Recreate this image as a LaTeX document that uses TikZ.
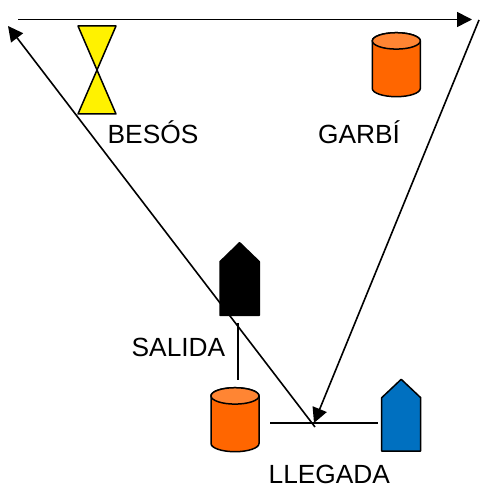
\documentclass[tikz,border=0pt]{standalone}
\usepackage{fontspec}
\setmainfont{Liberation Sans}
\usetikzlibrary{arrows.meta}
\definecolor{orangeBody}{HTML}{FF6600}
\definecolor{orangeTop}{HTML}{FF8533}
\definecolor{boatBlue}{HTML}{0070C0}
\tikzset{
  outline/.style={draw=black,line width=1.5pt,line join=round},
  conn/.style={draw=black,line width=1.6pt},
  arrowed/.style={conn,-{Triangle[length=15pt,width=15pt]}},
  label/.style={inner sep=0pt,anchor=base west,font=\fontsize{26.3}{30}\selectfont},
}
\newcommand{\drawcyl}[2]{% left x, top y
  \path[outline,fill=orangeBody] (#1,#2+8.2)
    -- (#1,#2+55.8) arc[x radius=24,y radius=8.2,start angle=180,end angle=0]
    -- (#1+48,#2+8.2) arc[x radius=24,y radius=8.2,start angle=0,end angle=-180] -- cycle;
  \path[outline,fill=orangeTop] (#1+24,#2+8.2) ellipse[x radius=24,y radius=8.2];
}
\begin{document}
\begin{tikzpicture}[x=1pt,y=-1pt]
\useasboundingbox[fill=white] (0,0) rectangle (479,486);
% end points
\coordinate (topStart) at (18,19.5);
\coordinate (topEnd) at (472,19.5);
\coordinate (rightStart) at (479,20);
\coordinate (meet) at (314,423);
\coordinate (leftStart) at (315,427);
\coordinate (leftEnd) at (8,26);
\coordinate (salTop) at (238,323);
\coordinate (salBot) at (238,380);
\coordinate (llegL) at (270,422.7);
\coordinate (llegR) at (377.7,422.7);
% bow tie
\path[outline,fill=yellow] (78,26) -- (116,26) -- (78,114) -- (116,114) -- cycle;
% cylinders
\drawcyl{372.3}{32.7}
\drawcyl{211}{387.7}
% connectors
\draw[arrowed] (topStart) -- (topEnd);
\draw[arrowed] (rightStart) -- (meet);
\draw[arrowed] (leftStart) -- (leftEnd);
\draw[conn] (salTop) -- (salBot);
\draw[conn] (llegL) -- (llegR);
% boats
\path[outline,fill=black] (220,261.7) -- (239.6,242.7) -- (259.3,261.7) -- (259.3,315.3) -- (220,315.3) -- cycle;
\path[outline,fill=boatBlue] (381.7,397.7) -- (401.2,379.3) -- (420.7,397.7) -- (420.7,451) -- (381.7,451) -- cycle;
% labels
\node[label] (besos) at (107.5,144) {BESÓS};
\node[label] (garbi) at (318,144) {GARBÍ};
\node[label] (salida) at (131.5,356.7) {SALIDA};
\node[label] (llegada) at (268.5,483) {LLEGADA};
\end{tikzpicture}
\end{document}
